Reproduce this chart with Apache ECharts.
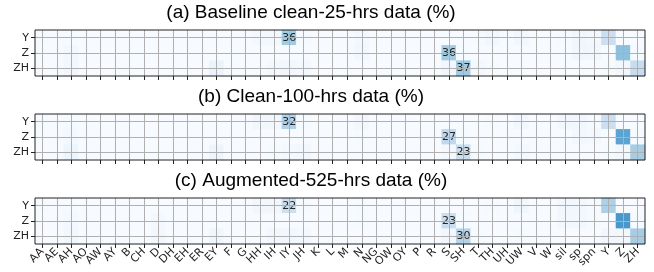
<!DOCTYPE html>
<html>
<head>
<meta charset="utf-8">
<script src="https://cdn.jsdelivr.net/npm/echarts@6/dist/echarts.min.js"></script>
<style>
  html, body { margin: 0; padding: 0; background: #fff; }
  #chart { width: 654px; height: 272px; }
</style>
</head>
<body>
<div id="chart"></div>
<script>
// phoneme columns (x axis) and target rows (y axis)
var phones = ['AA', 'AE', 'AH', 'AO', 'AW', 'AY', 'B', 'CH', 'D', 'DH', 'EH', 'ER', 'EY', 'F', 'G', 'HH', 'IH', 'IY', 'JH', 'K',
    'L', 'M', 'N', 'NG', 'OW', 'OY', 'P', 'R', 'S', 'SH', 'T', 'TH', 'UH', 'UW', 'V', 'W', 'sil', 'sp', 'spn', 'Y', 'Z', 'ZH'];
var rows = ['Y', 'Z', 'ZH'];
var titles = ['(a) Baseline clean-25-hrs data (%)', '(b) Clean-100-hrs data (%)', '(c) Augmented-525-hrs data (%)'];

// (a) baseline clean-25-hrs
var baseY  = [1, 0, 1, 0, 0, 0, 0, 0, 0, 0, 0, 0, 0, 0, 0, 2, 2, 36, 1, 0, 0, 0, 2, 0, 0, 0, 0, 0, 0, 0, 1, 3, 0, 3, 0, 0, 1, 4, 2, 22, 0, 0];
var baseZ  = [0, 0, 3, 0, 0, 0, 0, 0, 0, 0, 0, 0, 0, 0, 0, 0, 0, 0, 0, 0, 0, 0, 3, 0, 0, 0, 0, 0, 36, 1, 0, 0, 0, 0, 0, 0, 0, 4, 3, 0, 42, 1];
var baseZH = [0, 0, 3, 0, 0, 0, 0, 0, 0, 0, 0, 0, 6, 0, 0, 0, 2, 3, 2, 0, 0, 0, 0, 0, 0, 0, 0, 0, 3, 37, 2, 1, 0, 0, 0, 0, 0, 0, 0, 1, 3, 24];
// (b) clean-100-hrs
var cleanY  = [1, 0, 1, 0, 0, 0, 0, 0, 0, 0, 0, 0, 0, 0, 0, 3, 3, 32, 1, 0, 0, 0, 3, 0, 0, 0, 0, 0, 0, 0, 0, 1, 0, 3, 0, 0, 3, 3, 1, 22, 0, 0];
var cleanZ  = [0, 0, 2, 0, 0, 0, 0, 0, 0, 0, 0, 0, 0, 0, 0, 0, 0, 0, 0, 0, 0, 0, 1, 0, 0, 0, 0, 0, 27, 1, 0, 0, 0, 0, 0, 0, 0, 3, 2, 0, 55, 1];
var cleanZH = [0, 0, 5, 0, 0, 0, 0, 0, 0, 0, 0, 0, 5, 0, 0, 0, 1, 2, 3, 0, 0, 0, 0, 0, 0, 0, 0, 0, 2, 23, 1, 0, 0, 2, 0, 0, 0, 0, 0, 1, 3, 35];
// (c) augmented-525-hrs
var augY  = [1, 0, 1, 0, 0, 0, 0, 0, 0, 0, 0, 0, 0, 0, 0, 3, 3, 22, 1, 0, 0, 0, 1, 0, 0, 0, 0, 0, 0, 0, 0, 1, 0, 4, 0, 0, 3, 3, 1, 33, 0, 0];
var augZ  = [0, 0, 2, 0, 0, 0, 0, 0, 2, 0, 0, 0, 0, 0, 0, 0, 0, 0, 0, 0, 0, 0, 1, 0, 0, 0, 0, 0, 23, 1, 0, 0, 0, 0, 0, 0, 3, 3, 1, 0, 60, 1];
var augZH = [0, 0, 3, 0, 0, 0, 0, 0, 3, 0, 0, 0, 4, 0, 0, 0, 3, 3, 2, 0, 0, 0, 0, 0, 0, 0, 0, 0, 3, 30, 1, 0, 0, 1, 0, 0, 0, 0, 0, 3, 3, 35];

var panels = [[baseY, baseZ, baseZH], [cleanY, cleanZ, cleanZH], [augY, augZ, augZH]];
var blues = ['#f7fbff', '#deebf7', '#c6dbef', '#9ecae1', '#6baed6', '#4292c6', '#2171b5', '#08519c', '#08306b'];
var tops = [30, 114, 198];
var plotH = 46;
var ink = '#222';

function cells(panel) {
    var out = [];
    panel.forEach(function (vals, r) {
        vals.forEach(function (v, c) { out.push([c, r, v]); });
    });
    return out;
}

var chart = echarts.init(document.getElementById('chart'));
chart.setOption({
    animation: false,
    title: titles.map(function (t, i) {
        return {
            text: t, left: 311, textAlign: 'center', top: tops[i] - 27, padding: 0,
            textStyle: { fontFamily: 'Liberation Sans', fontSize: 19, fontWeight: 'normal', color: '#000' }
        };
    }),
    grid: tops.map(function (t) {
        return { left: 35, right: 9, top: t, height: plotH, show: true, borderColor: ink, borderWidth: 1, z: 5 };
    }),
    xAxis: tops.map(function (t, i) {
        return {
            type: 'category', gridIndex: i, data: phones, z: 4,
            axisLine: { show: false },
            axisTick: { show: true, alignWithLabel: true, interval: 0, length: 4, lineStyle: { color: ink } },
            axisLabel: { show: i === 2, interval: 0, rotate: 45, margin: 6, fontFamily: 'DejaVu Sans', fontSize: 11, color: ink },
            splitLine: { show: true, alignWithLabel: true, interval: 0, lineStyle: { color: '#b0b0b0', width: 1 } }
        };
    }),
    yAxis: tops.map(function (t, i) {
        return {
            type: 'category', gridIndex: i, data: rows, inverse: true, z: 4,
            axisLine: { show: false },
            axisTick: { show: true, alignWithLabel: true, interval: 0, length: 4, lineStyle: { color: ink } },
            axisLabel: { interval: 0, margin: 6, fontFamily: 'DejaVu Sans', fontSize: 11, color: ink },
            splitLine: { show: true, alignWithLabel: true, interval: 0, lineStyle: { color: '#b0b0b0', width: 1 } }
        };
    }),
    visualMap: {
        show: false, min: 0, max: 100, seriesIndex: [0, 1, 2],
        inRange: { color: blues }
    },
    series: panels.map(function (p, i) {
        return {
            type: 'heatmap', xAxisIndex: i, yAxisIndex: i,
            data: cells(p),
            emphasis: { disabled: true },
            label: {
                show: true, fontFamily: 'DejaVu Sans', fontSize: 11, color: '#262626',
                formatter: function (d) {
                    var v = d.value;
                    return (phones[v[0]] !== rows[v[1]] && v[2] >= 20) ? String(v[2]) : '';
                }
            }
        };
    })
});
</script>
</body>
</html>
